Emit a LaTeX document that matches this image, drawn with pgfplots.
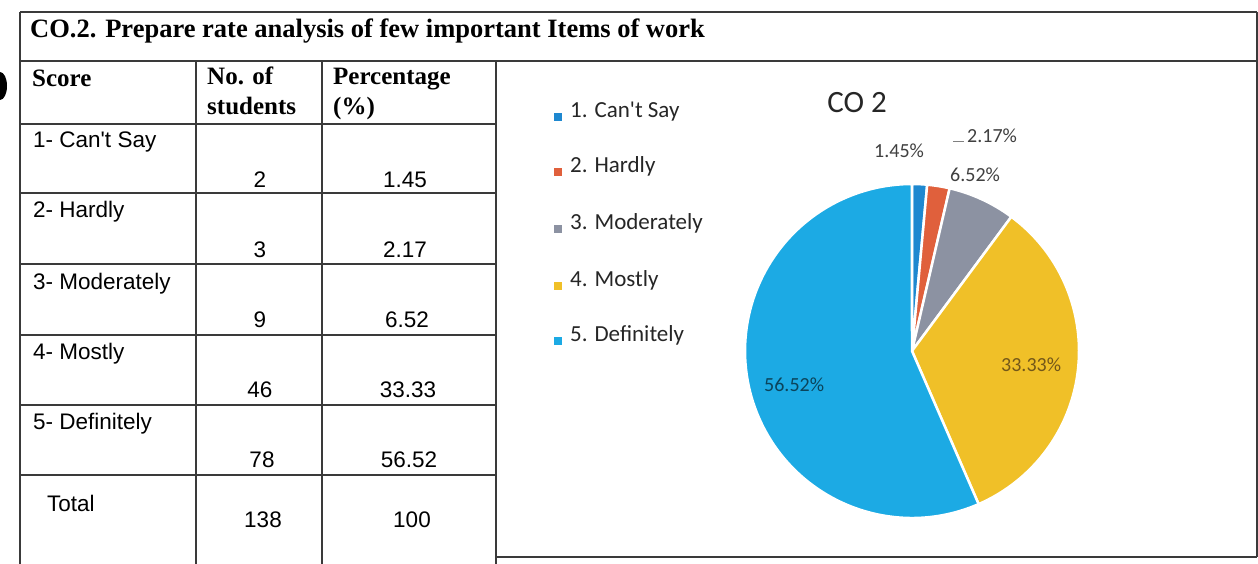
\documentclass[border=0pt]{standalone}
\usepackage{fontspec}
\usepackage{pgfplots}
\usepackage{pgfplotstable}
\pgfplotsset{compat=1.18}
\setmainfont{Liberation Serif}
\newfontfamily\arial{Liberation Sans}
\newfontfamily\calibri{Carlito}
\definecolor{cA}{HTML}{1E88D0}
\definecolor{cB}{HTML}{E0603C}
\definecolor{cC}{HTML}{8C92A2}
\definecolor{cD}{HTML}{F0C028}
\definecolor{cE}{HTML}{1CAAE4}
\definecolor{gridc}{HTML}{3A3A3A}

\pgfplotstableread{
idx students pct
1 2 1.45
2 3 2.17
3 9 6.52
4 46 33.33
5 78 56.52
}\piedata

\begin{document}
\begin{tikzpicture}[x=1pt,y=1pt]
\useasboundingbox (0,0) rectangle (1258,564);
\fill[white] (0,0) rectangle (1258,564);
% ---- angles from the table (start at 12 o'clock, clockwise)
\pgfplotstablegetelem{0}{pct}\of\piedata \pgfmathsetmacro\pA{\pgfplotsretval}
\pgfplotstablegetelem{1}{pct}\of\piedata \pgfmathsetmacro\pB{\pgfplotsretval}
\pgfplotstablegetelem{2}{pct}\of\piedata \pgfmathsetmacro\pC{\pgfplotsretval}
\pgfplotstablegetelem{3}{pct}\of\piedata \pgfmathsetmacro\pD{\pgfplotsretval}
\pgfplotstablegetelem{4}{pct}\of\piedata \pgfmathsetmacro\pE{\pgfplotsretval}
\pgfmathsetmacro\aA{90}
\pgfmathsetmacro\aB{\aA-3.6*\pA}
\pgfmathsetmacro\aC{\aB-3.6*\pB}
\pgfmathsetmacro\aD{\aC-3.6*\pC}
\pgfmathsetmacro\aE{\aD-3.6*\pD}
\pgfmathsetmacro\aF{\aE-3.6*\pE}
% ---- scan artifact (punch hole)
\fill[black] (0,478) ellipse [x radius=7, y radius=14];
% ---- table frame
\begin{scope}[draw=gridc, line width=1.4pt]
\draw (20,552) -- (1257,552);
\draw (20,503) -- (1257,503);
\draw (20,552) -- (20,0);
\draw (1257,552) -- (1257,7);
\draw (496,7) -- (1257,7);
\foreach \xx in {196,322,496} \draw (\xx,503) -- (\xx,0);
\foreach \yy in {440,371,300,229,159,89} \draw (20,\yy) -- (496,\yy);
\end{scope}
% ---- title and headers
\node[anchor=base west, inner sep=0pt, font=\fontsize{26.5}{30}\selectfont\bfseries] at (30,526) {CO.2. Prepare rate analysis of few important Items of work};
\begin{scope}[every node/.style={anchor=base west, inner sep=0pt, font=\fontsize{25}{29}\selectfont\bfseries}]
\node at (32,477) {Score};
\node at (207,479) {No. of};
\node at (207,449) {students};
\node at (333,479) {Percentage};
\node at (333,449) {(\%)};
\end{scope}
\begin{scope}[every node/.style={anchor=base west, inner sep=0pt, font=\arial\fontsize{22.5}{26}\selectfont}]
\node at (33,416) {1- Can't Say};
\node at (33,346) {2- Hardly};
\node at (33,274) {3- Moderately};
\node at (33,204) {4- Mostly};
\node at (33,134) {5- Definitely};
\node at (47,52) {Total};
\end{scope}
\begin{scope}[every node/.style={anchor=base, inner sep=0pt, font=\arial\fontsize{22.5}{26}\selectfont}]
\node at (260,376) {2};   \node at (405,376) {1.45};
\node at (260,306) {3};   \node at (405,306) {2.17};
\node at (260,236) {9};   \node at (407,236) {6.52};
\node at (260,166) {46};  \node at (408,166) {33.33};
\node at (262,96) {78};   \node at (409,96) {56.52};
\node at (263,36) {138};  \node at (412,36) {100};
\end{scope}
% ---- legend
\begin{scope}[every node/.style={anchor=base west, inner sep=0pt, font=\calibri\fontsize{23}{27}\selectfont, text=black!85}]
\fill[cA] (554,443) rectangle +(8,8); \node at (570,446) {1. Can't Say};
\fill[cB] (554,388) rectangle +(8,8); \node at (570,391) {2. Hardly};
\fill[cC] (554,331) rectangle +(8,8); \node at (570,334) {3. Moderately};
\fill[cD] (554,274) rectangle +(8,8); \node at (570,277) {4. Mostly};
\fill[cE] (554,219) rectangle +(8,8); \node at (570,222) {5. Definitely};
\end{scope}
\node[anchor=base, inner sep=0pt, font=\calibri\fontsize{31}{36}\selectfont, text=black!85] at (857,451) {CO 2};
% ---- pie
\begin{axis}[at={(912pt,213pt)}, anchor=origin, x=1cm, y=1cm,
  xmin=-6, xmax=6, ymin=-6, ymax=6, hide axis, clip=false]
\fill[cA, draw=white, line width=2.5pt] (axis cs:0,0) -- (axis cs:{5.869*cos(\aA)},{5.869*sin(\aA)}) arc[start angle=\aA, end angle=\aB, radius=5.869] -- cycle;
\fill[cB, draw=white, line width=2.5pt] (axis cs:0,0) -- (axis cs:{5.869*cos(\aB)},{5.869*sin(\aB)}) arc[start angle=\aB, end angle=\aC, radius=5.869] -- cycle;
\fill[cC, draw=white, line width=2.5pt] (axis cs:0,0) -- (axis cs:{5.869*cos(\aC)},{5.869*sin(\aC)}) arc[start angle=\aC, end angle=\aD, radius=5.869] -- cycle;
\fill[cD, draw=white, line width=2.5pt] (axis cs:0,0) -- (axis cs:{5.869*cos(\aD)},{5.869*sin(\aD)}) arc[start angle=\aD, end angle=\aE, radius=5.869] -- cycle;
\fill[cE, draw=white, line width=2.5pt] (axis cs:0,0) -- (axis cs:{5.869*cos(\aE)},{5.869*sin(\aE)}) arc[start angle=\aE, end angle=\aF, radius=5.869] -- cycle;
\end{axis}
% ---- data labels
\begin{scope}[every node/.style={anchor=base west, inner sep=0pt, font=\calibri\fontsize{20}{24}\selectfont, text=black!75}]
\node at (874,406) {1.45\%};
\node at (967,421) {2.17\%};
\node at (950,382) {6.52\%};
\node[text=black!60!cD!80!brown] at (1001,192) {33.33\%};
\node[text=cE!40!black] at (764,172) {56.52\%};
\end{scope}
\draw[gray, line width=0.8pt] (953,423) -- (964,423);
\end{tikzpicture}
\end{document}
